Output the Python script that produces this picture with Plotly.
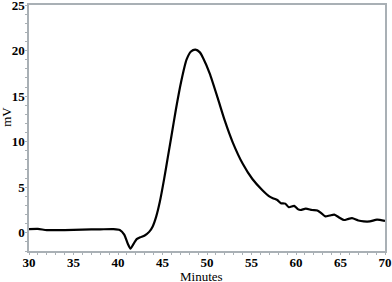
import plotly.graph_objects as go

minutes = [30, 31, 32, 34, 36, 38, 39.5, 40.2, 40.7, 41.1, 41.4, 41.7, 42.1, 42.5, 43.0, 43.5, 43.9,
           44.3, 44.7, 45.2, 45.6, 46.0, 46.5, 47.1, 47.7, 48.2, 48.7, 49.2, 49.6, 50.3, 51.2,
           52.0, 52.9, 54.0, 55.1, 56.2, 57.0, 57.4, 57.9, 58.3, 58.8, 59.2, 59.8, 60.2, 60.5,
           61.1, 61.8, 62.4, 62.9, 63.3, 63.8, 64.3, 64.9, 65.4, 65.8, 66.3, 67.0, 67.6, 68.3,
           69.1, 70]
mv = [0.4, 0.42, 0.3, 0.3, 0.35, 0.38, 0.4, 0.3, -0.2, -1.2, -1.75, -1.3, -0.7, -0.5, -0.3, 0.1, 0.7,
      1.8, 3.4, 6.0, 8.3, 10.6, 13.5, 16.6, 19.0, 19.9, 20.1, 19.8, 19.1, 17.5, 14.8,
      12.3, 9.9, 7.6, 5.9, 4.7, 4.0, 3.8, 3.6, 3.25, 3.2, 2.8, 2.95, 2.6, 2.5,
      2.65, 2.5, 2.45, 2.1, 1.8, 1.9, 2.0, 1.65, 1.4, 1.5, 1.6, 1.35, 1.25, 1.25,
      1.45, 1.3]

x_ticks = [30, 35, 40, 45, 50, 55, 60, 65, 70]
y_ticks = [0, 5, 10, 15, 20, 25]
x_title = "Minutes"
y_title = "mV"

fig = go.Figure(go.Scatter(x=minutes, y=mv, mode="lines",
                           line=dict(color="black", width=2.2, shape="spline", smoothing=0.6)))

tickfont = dict(family="Liberation Serif", size=13, color="black", weight="bold")
titlefont = dict(family="Liberation Serif", size=13, color="black")
frame = "#a9b0b5"
fig.update_layout(
    width=392, height=282,
    margin=dict(l=29, r=7, t=5, b=31),
    paper_bgcolor="white", plot_bgcolor="white",
    showlegend=False,
    xaxis=dict(range=[30, 70], tickvals=x_ticks, showgrid=False, zeroline=False,
               showline=True, linecolor=frame, linewidth=1.5, mirror=True,
               ticks="outside", ticklen=2, tickcolor=frame, automargin=False,
               ticklabeloverflow="allow", ticklabelstandoff=-3,
               minor=dict(dtick=1, ticklen=2, tickcolor=frame, ticks="outside"),
               tickfont=tickfont),
    yaxis=dict(range=[-2, 25], tickvals=y_ticks, showgrid=False, zeroline=False,
               showline=True, linecolor=frame, linewidth=1.5, mirror=True,
               ticks="outside", ticklen=2, tickcolor=frame, automargin=False,
               ticklabeloverflow="allow", ticklabelstandoff=-2,
               minor=dict(dtick=1, ticklen=2, tickcolor=frame, ticks="outside"),
               tickfont=tickfont),
    annotations=[
        dict(text=x_title, xref="paper", yref="paper", x=0.484, y=-0.103, yanchor="middle",
             xanchor="center", showarrow=False, font=titlefont),
        dict(text=y_title, xref="paper", yref="paper", x=-0.062, y=0.545, textangle=-90,
             xanchor="center", yanchor="middle", showarrow=False, font=titlefont),
    ],
)
fig.write_html("out.html", config={"displayModeBar": False},
               post_script="document.body.style.margin='0';")
